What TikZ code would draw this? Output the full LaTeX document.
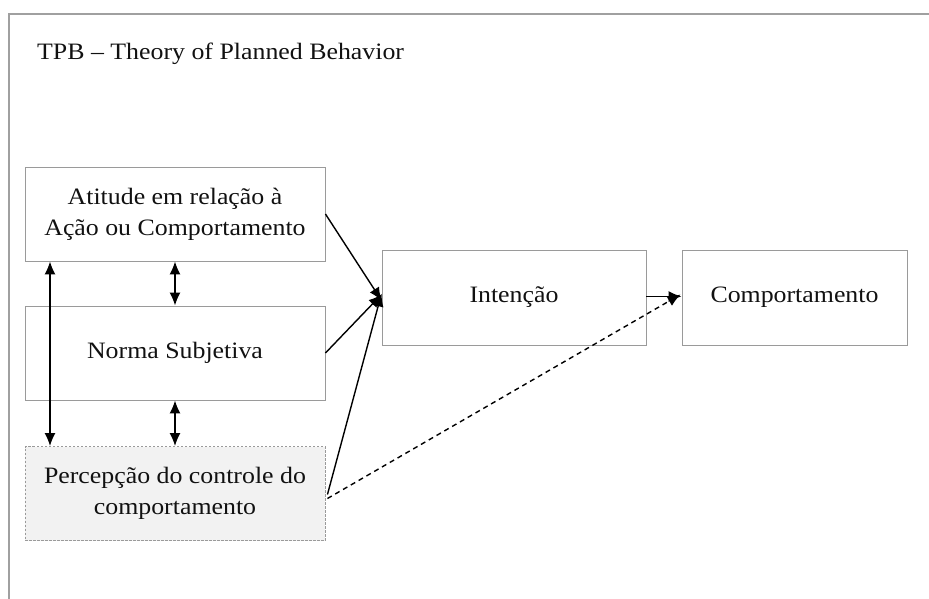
\documentclass[tikz,border=0pt]{standalone}
\usepackage{fontspec}
\setmainfont{Liberation Serif}[FakeStretch=1.1]
\usetikzlibrary{arrows.meta}
\definecolor{framegray}{HTML}{A0A0A0}
\definecolor{boxgray}{HTML}{9A9A9A}
\definecolor{percfill}{HTML}{F2F2F2}
\definecolor{txt}{HTML}{111111}
\tikzset{
  box/.style={draw=boxgray, line width=0.9pt, rectangle, align=center, text=txt,
    font=\fontsize{23.5}{31}\selectfont, inner sep=0pt},
  conn/.style={line width=1.4pt, -{Latex[length=13pt,width=11pt]}},
  dconn/.style={line width=1.4pt, {Latex[length=13pt,width=11pt]}-{Latex[length=13pt,width=11pt]}},
}
\begin{document}
\begin{tikzpicture}[x=1pt,y=-1pt]
\useasboundingbox (0,0) rectangle (929,599);
% frame
\draw[framegray, line width=1.6pt] (9,599) -- (9,14) -- (929,14);
\node[anchor=base west, font=\fontsize{23.5}{31}\selectfont, text=txt, inner sep=0pt] (title) at (37,60) {TPB -- Theory of Planned Behavior};
% boxes
\node[box, minimum width=300pt, minimum height=94pt] (att) at (175,214) {Atitude em relação à\\Ação ou Comportamento};
\node[box, minimum width=300pt, minimum height=94pt] (norm) at (175,353) {Norma Subjetiva};
\node[box, draw=boxgray, dashed, dash pattern=on 2.5pt off 1.5pt, fill=percfill, minimum width=300pt, minimum height=94pt] (perc) at (175,493.5) {Percepção do controle do\\comportamento};
\node[box, minimum width=264pt, minimum height=95pt] (int) at (514,297.5) {Intenção};
\node[box, minimum width=225pt, minimum height=95pt] (comp) at (794.5,297.5) {Comportamento};
% connectors
\draw[conn] (att.east) -- ([yshift=-3pt]int.west);
\draw[conn] (norm.east) -- ([yshift=3pt]int.west);
\draw[conn] ([xshift=2pt,yshift=-1pt]perc.east) -- ([yshift=4pt]int.west);
\draw[conn] ([yshift=1pt]int.east) -- ([yshift=1pt]comp.west);
\draw[conn, dashed, dash pattern=on 5pt off 4pt] ([xshift=2pt,yshift=-5pt]perc.east) -- ([xshift=-1pt,yshift=3pt]comp.west);
\draw[dconn] ([xshift=-125pt]att.south) -- ([xshift=-125pt]perc.north);
\draw[dconn] (att.south) -- (norm.north);
\draw[dconn] (norm.south) -- (perc.north);
\end{tikzpicture}
\end{document}
